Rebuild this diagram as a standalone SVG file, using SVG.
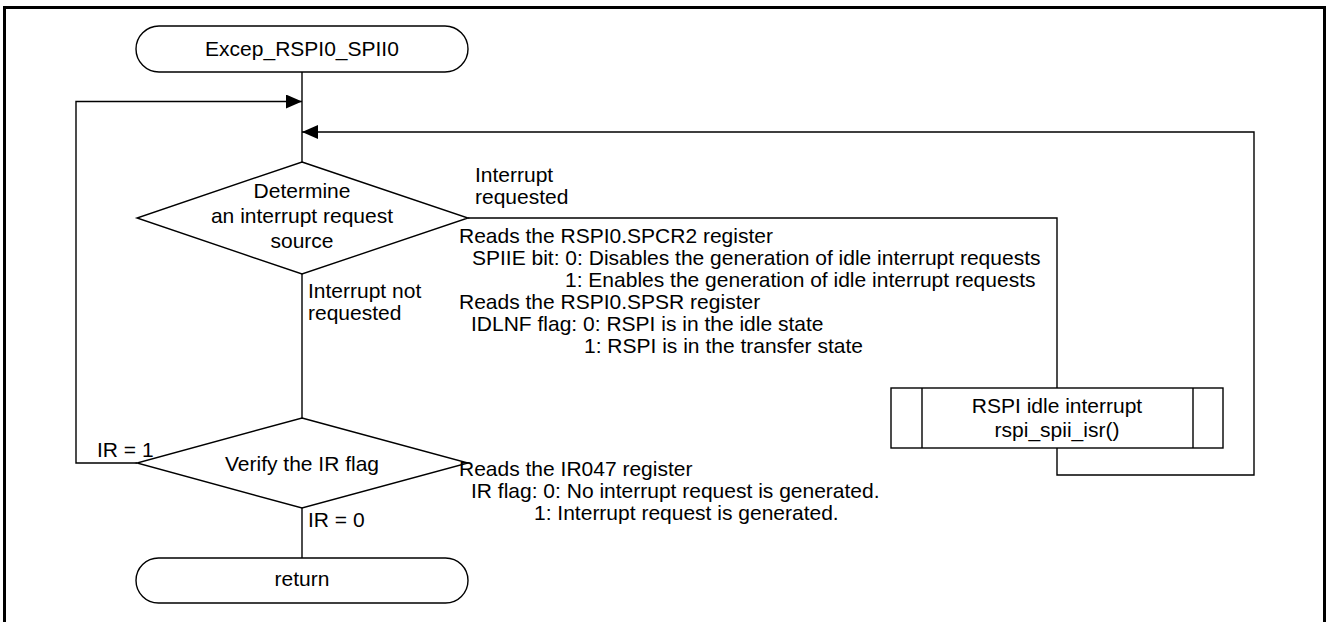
<svg xmlns="http://www.w3.org/2000/svg" width="1328" height="622" viewBox="0 0 1328 622">
<defs>
<style>
text{font-family:"Liberation Sans",Arial,sans-serif;font-size:21px;fill:#000}
.c{text-anchor:middle}
.s{fill:#fff;stroke:#000;stroke-width:1.4}
.ln{fill:none;stroke:#000;stroke-width:1.4}
</style>
<marker id="ah" viewBox="0 0 16 14" refX="16" refY="7" markerWidth="16" markerHeight="14" markerUnits="userSpaceOnUse" orient="auto">
<path d="M0,0 L16,7 L0,14 Z" fill="#000"/>
</marker>
</defs>
<rect x="0" y="0" width="1328" height="622" fill="#fff"/>
<rect x="4.5" y="7.5" width="1320" height="640" fill="none" stroke="#000" stroke-width="3"/>
<g id="connectors">
<path class="ln" d="M302,72 V162"/>
<path class="ln" d="M302,274 V418"/>
<path class="ln" d="M302,508 V558"/>
<path class="ln" d="M137,463 H76 V101.5 H302" marker-end="url(#ah)"/>
<path class="ln" d="M468,218 H1057 V388"/>
<path class="ln" d="M1057,448 V475 H1254 V132 H302" marker-end="url(#ah)"/>
</g>
<g id="start">
<rect class="s" x="136" y="26" width="332" height="46" rx="23"/>
<text class="c" x="302" y="56">Excep_RSPI0_SPII0</text>
</g>
<g id="decision1">
<polygon class="s" points="302,162 468,218 302,274 137,218"/>
<text class="c" x="302" y="198">Determine</text>
<text class="c" x="302" y="223">an interrupt request</text>
<text class="c" x="302" y="248">source</text>
</g>
<g id="label-requested">
<text x="475" y="182">Interrupt</text>
<text x="475" y="204">requested</text>
</g>
<g id="label-not-requested">
<text x="308" y="298">Interrupt not</text>
<text x="308" y="320">requested</text>
</g>
<g id="note1">
<text x="459" y="243">Reads the RSPI0.SPCR2 register</text>
<text x="472" y="265">SPIIE bit: 0: Disables the generation of idle interrupt requests</text>
<text x="565" y="287">1: Enables the generation of idle interrupt requests</text>
<text x="459" y="309">Reads the RSPI0.SPSR register</text>
<text x="471" y="331">IDLNF flag: 0: RSPI is in the idle state</text>
<text x="584" y="353">1: RSPI is in the transfer state</text>
</g>
<g id="subroutine">
<rect class="s" x="891" y="388" width="332" height="60"/>
<path class="ln" d="M922,388 V448 M1193,388 V448"/>
<text class="c" x="1057" y="413">RSPI idle interrupt</text>
<text class="c" x="1057" y="437">rspi_spii_isr()</text>
</g>
<g id="decision2">
<polygon class="s" points="302,418 468,463 302,508 137,463"/>
<text class="c" x="302" y="471">Verify the IR flag</text>
</g>
<g id="label-ir1"><text x="97" y="457">IR = 1</text></g>
<g id="label-ir0"><text x="308" y="527">IR = 0</text></g>
<g id="note2">
<text x="459" y="476">Reads the IR047 register</text>
<text x="471" y="498">IR flag: 0: No interrupt request is generated.</text>
<text x="534" y="520">1: Interrupt request is generated.</text>
</g>
<g id="end">
<rect class="s" x="136" y="558" width="332" height="45" rx="22.5"/>
<text class="c" x="302" y="586">return</text>
</g>
</svg>
